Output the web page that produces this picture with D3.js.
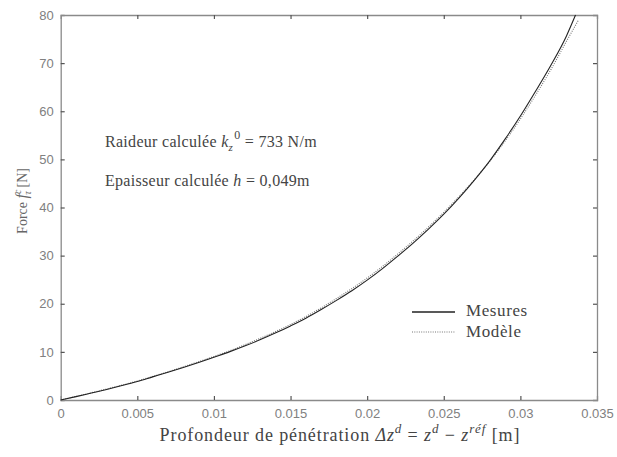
<!DOCTYPE html>
<html><head><meta charset="utf-8">
<script src="https://cdn.jsdelivr.net/npm/d3@7"></script>
<style>body{margin:0;background:#fff}svg{display:block}</style>
</head><body>
<svg id="c" width="617" height="457"></svg>
<script>
const depth = [0,0.001,0.002,0.003,0.004,0.005,0.006,0.007,0.008,0.009,0.010,0.011,0.012,0.013,0.014,0.015,0.016,0.017,0.018,0.019,0.020,0.021,0.022,0.023,0.024,0.025,0.026,0.027,0.028,0.029,0.030,0.031,0.032,0.033,0.0336];
const mesures = [0,0.7,1.45,2.2,3.0,3.85,4.8,5.75,6.75,7.8,8.9,10.0,11.2,12.5,13.9,15.4,17.0,18.8,20.7,22.7,24.9,27.3,29.9,32.6,35.5,38.6,42.0,45.7,49.7,54.2,59.0,64.2,69.6,75.6,80.0];
const depthModel = [0,0.001,0.002,0.003,0.004,0.005,0.006,0.007,0.008,0.009,0.010,0.011,0.012,0.013,0.014,0.015,0.016,0.017,0.018,0.019,0.020,0.021,0.022,0.023,0.024,0.025,0.026,0.027,0.028,0.029,0.030,0.031,0.032,0.033,0.0338];
const modele = [0,0.75,1.5,2.3,3.1,3.95,4.9,5.85,6.9,7.95,9.05,10.2,11.45,12.8,14.2,15.7,17.35,19.15,21.1,23.15,25.35,27.75,30.35,33.05,35.95,39.0,42.3,45.8,49.6,53.8,58.4,63.4,68.7,74.5,79.0];
const xTicks = [0,0.005,0.01,0.015,0.02,0.025,0.03,0.035];
const xTickLabels = ["0","0.005","0.01","0.015","0.02","0.025","0.03","0.035"];
const yTicks = [0,10,20,30,40,50,60,70,80];
const legendLabels = ["Mesures","Modèle"];

const svg = d3.select("#c");
const L=60.7, R=597, T=15, B=400;
const x = d3.scaleLinear().domain([0,0.035]).range([L,R]);
const y = d3.scaleLinear().domain([0,80]).range([B,T]);
const axisCol = "#8a8a8a", tickFont = "Liberation Sans, Arial, sans-serif";

const gb = svg.append("g").attr("transform",`translate(0,${B})`)
  .call(d3.axisBottom(x).tickValues(xTicks).tickSize(-4).tickPadding(9).tickFormat((d,i)=>xTickLabels[i]));
const gt = svg.append("g").attr("transform",`translate(0,${T})`)
  .call(d3.axisTop(x).tickValues(xTicks).tickSize(-4).tickFormat(""));
const gl = svg.append("g").attr("transform",`translate(${L},0)`)
  .call(d3.axisLeft(y).tickValues(yTicks).tickSize(-4).tickPadding(7));
const gr = svg.append("g").attr("transform",`translate(${R},0)`)
  .call(d3.axisRight(y).tickValues(yTicks).tickSize(-4).tickFormat(""));
[gb,gt,gl,gr].forEach(g=>{
  g.selectAll("path.domain").attr("stroke",axisCol).attr("stroke-width",1.3);
  g.selectAll(".tick line").attr("stroke","#555").attr("stroke-width",1.2);
  g.selectAll(".tick text").attr("fill","#808080").attr("font-family",tickFont).attr("font-size",13);
});
gb.selectAll(".tick line").filter(d=>d===0||d===0.035).remove();
gt.selectAll(".tick line").filter(d=>d===0||d===0.035).remove();
gl.selectAll(".tick line").filter(d=>d===0||d===80).remove();
gr.selectAll(".tick line").filter(d=>d===0||d===80).remove();

const line = d3.line().x(d=>x(d[0])).y(d=>y(d[1])).curve(d3.curveMonotoneX);
svg.append("path").datum(depthModel.map((d,i)=>[d,modele[i]]))
  .attr("d",line).attr("fill","none").attr("stroke","#777").attr("stroke-width",1.1).attr("stroke-dasharray","1,1.3");
svg.append("path").datum(depth.map((d,i)=>[d,mesures[i]]))
  .attr("d",line).attr("fill","none").attr("stroke","#222").attr("stroke-width",1.1);

const serif = "Liberation Serif, Times New Roman, serif";
const txtCol = "#444";
const a1 = svg.append("text").attr("x",105).attr("y",147).attr("font-family",serif).attr("font-size",16).attr("letter-spacing",0.3).attr("fill",txtCol);
a1.append("tspan").text("Raideur calculée  ");
a1.append("tspan").attr("font-style","italic").text("k");
a1.append("tspan").attr("font-style","italic").attr("font-size",11).attr("dy",4).text("z");
a1.append("tspan").attr("font-size",12).attr("dy",-12).attr("dx",1).text("0");
a1.append("tspan").attr("dy",8).text(" = 733 N/m");
const a2 = svg.append("text").attr("x",105).attr("y",186).attr("font-family",serif).attr("font-size",16).attr("letter-spacing",0.3).attr("fill",txtCol);
a2.append("tspan").text("Epaisseur calculée ");
a2.append("tspan").attr("font-style","italic").text("h");
a2.append("tspan").text(" = 0,049m");

svg.append("line").attr("x1",412).attr("x2",455).attr("y1",312).attr("y2",312).attr("stroke","#222").attr("stroke-width",1.3);
svg.append("line").attr("x1",412).attr("x2",455).attr("y1",332).attr("y2",332).attr("stroke","#777").attr("stroke-width",1.1).attr("stroke-dasharray","1,1.3");
svg.append("text").attr("x",466).attr("y",316).attr("font-family",serif).attr("font-size",17).attr("letter-spacing",0.6).attr("fill",txtCol).text(legendLabels[0]);
svg.append("text").attr("x",466).attr("y",337).attr("font-family",serif).attr("font-size",17).attr("letter-spacing",0.6).attr("fill",txtCol).text(legendLabels[1]);

const xl = svg.append("text").attr("x",340).attr("y",441).attr("text-anchor","middle").attr("font-family",serif).attr("font-size",18).attr("letter-spacing",0.9).attr("fill",txtCol);
xl.append("tspan").text("Profondeur de pénétration  ");
xl.append("tspan").attr("font-style","italic").text("Δz");
xl.append("tspan").attr("font-style","italic").attr("font-size",13).attr("dy",-8).text("d");
xl.append("tspan").attr("dy",8).text(" = ");
xl.append("tspan").attr("font-style","italic").text("z");
xl.append("tspan").attr("font-style","italic").attr("font-size",13).attr("dy",-8).text("d");
xl.append("tspan").attr("dy",8).text(" − ");
xl.append("tspan").attr("font-style","italic").text("z");
xl.append("tspan").attr("font-style","italic").attr("font-size",13).attr("dy",-8).text("réf");
xl.append("tspan").attr("dy",8).text(" [m]");

const yl = svg.append("text").attr("transform","translate(27,201) rotate(-90)").attr("text-anchor","middle").attr("font-family",serif).attr("font-size",14).attr("fill","#666");
yl.append("tspan").text("Force ");
yl.append("tspan").attr("font-style","italic").attr("font-size",16).text("f");
yl.append("tspan").attr("font-style","italic").attr("font-size",10).attr("dy",-6).text("c");
yl.append("tspan").attr("font-style","italic").attr("font-size",10).attr("dy",10).attr("dx",-5).text("τ");
yl.append("tspan").attr("dy",-4).text(" [N]");
</script>
</body></html>
